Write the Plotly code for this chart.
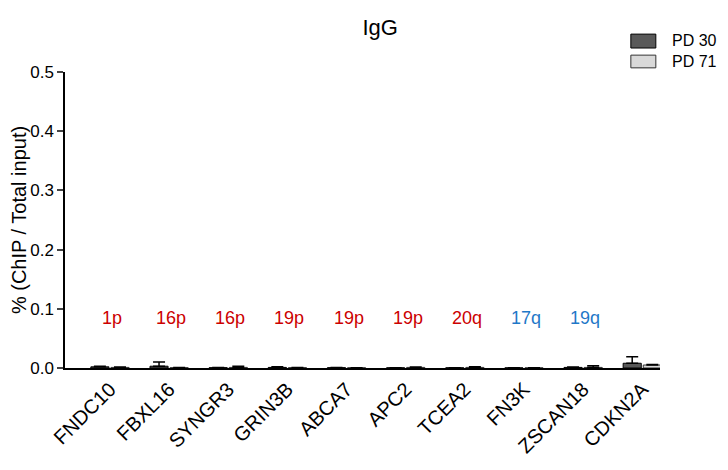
import plotly.graph_objects as go

genes = ["FNDC10", "FBXL16", "SYNGR3", "GRIN3B", "ABCA7", "APC2", "TCEA2", "FN3K", "ZSCAN18", "CDKN2A"]
pd30 = [0.002, 0.003, 0.0005, 0.001, 0.0005, 0.0003, 0.0003, 0.0002, 0.001, 0.008]
pd30_err = [0.001, 0.007, 0.0003, 0.001, 0.0003, 0.0002, 0.0002, 0.0001, 0.0005, 0.011]
pd71 = [0.001, 0.0005, 0.001, 0.0005, 0.0003, 0.001, 0.001, 0.0002, 0.001, 0.005]
pd71_err = [0.0005, 0.0003, 0.002, 0.0003, 0.0002, 0.0008, 0.0012, 0.0001, 0.003, 0.001]
arm_labels = ["1p", "16p", "16p", "19p", "19p", "19p", "20q", "17q", "19q"]
arm_colors = ["#cc0000"] * 7 + ["#1f78c8"] * 2
y_ticks = [0.0, 0.1, 0.2, 0.3, 0.4, 0.5]
series_names = ["PD 30", "PD 71"]
series_fill = ["#595959", "#d9d9d9"]
series_edge = ["black", "#333333"]

FONT = "Liberation Sans, Arial"

fig = go.Figure()
for name, vals, errs, fc, ec in zip(series_names, [pd30, pd71], [pd30_err, pd71_err],
                                     series_fill, series_edge):
    fig.add_trace(go.Bar(
        name=name, x=genes, y=vals, showlegend=False,
        marker=dict(color=fc, line=dict(color=ec, width=1)),
        error_y=dict(type="data", array=errs, arrayminus=[0] * len(genes),
                     color="black", thickness=1.5, width=6),
    ))

for i, (lab, col) in enumerate(zip(arm_labels, arm_colors)):
    fig.add_annotation(x=genes[i], y=0.085, text=lab, showarrow=False,
                       font=dict(color=col, size=18, family=FONT), xshift=2)

# custom legend (rectangular swatches)
leg_y = [(1.128, 1.081, 1.105), (1.057, 1.014, 1.037)]
for (y0, y1, yc), name, fc, ec in zip(leg_y, series_names, series_fill, series_edge):
    fig.add_shape(type="rect", xref="paper", yref="paper", x0=0.951, x1=0.993,
                  y0=y1, y1=y0, fillcolor=fc, line=dict(color=ec, width=1))
    fig.add_annotation(xref="paper", yref="paper", x=1.017, y=yc, text=name,
                       showarrow=False, xanchor="left", yanchor="middle",
                       font=dict(size=16, family=FONT, color="black"))

fig.update_layout(
    width=720, height=462,
    margin=dict(l=57, r=68, t=64, b=102),
    plot_bgcolor="white", paper_bgcolor="white",
    font=dict(family=FONT, size=16, color="black"),
    title=dict(text="IgG", x=0.517, xanchor="center", y=0.959, yanchor="middle",
               font=dict(size=22)),
    barmode="group", bargap=0.32, bargroupgap=0.1,
    showlegend=False,
    xaxis=dict(type="category", range=[-0.76, 9.3], showline=True, linecolor="black",
               linewidth=1.5, ticks="", tickangle=-45, tickfont=dict(size=20),
               showgrid=False, zeroline=False, automargin=False),
    yaxis=dict(range=[0, 0.5], tickvals=y_ticks, ticktext=[f"{v:.1f}" for v in y_ticks],
               showline=True, linecolor="black", linewidth=1.5, ticks="outside",
               ticklen=6, tickwidth=1.5, tickfont=dict(size=17), showgrid=False,
               zeroline=False, automargin=False,
               title=dict(text="% (ChIP / Total input)", font=dict(size=20), standoff=2)),
)

fig.write_html("out.html")
